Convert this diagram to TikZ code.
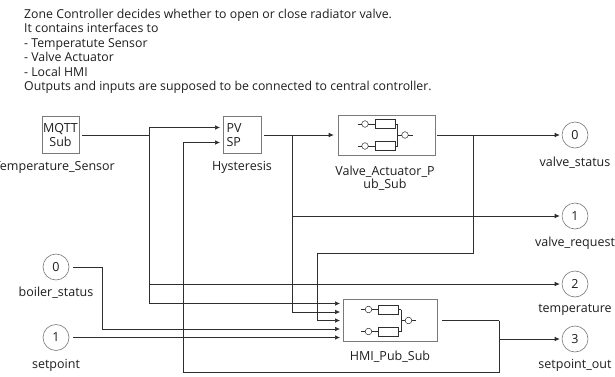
\documentclass[tikz,border=0pt]{standalone}
\usepackage{fontspec}
\setmainfont{Open Sans}
\usetikzlibrary{arrows.meta}
\definecolor{wirecol}{HTML}{2E2E2E}
\definecolor{boxcol}{HTML}{7A7A7A}
\definecolor{txtcol}{HTML}{1E1E1E}
\newcommand{\pubsubicon}[1]{%
    \begin{scope}[shift={(#1.center)}, draw=wirecol, line width=0.5pt]
        \foreach \s in {-11,11} {
            \draw (-29,\s) -- (-24.8,\s); \draw (-21.5,\s) circle (3.3pt);
            \draw (-18.2,\s) -- (-11.5,\s); \draw (-11.5,\s-4.7) rectangle (8.5,\s+4.7);
            \draw (8.5,\s) -- (11,\s);
        }
        \draw (11,-11) -- (11,11); \draw (11,0) -- (15.2,0);
        \draw (18.5,0) circle (3.3pt); \draw (21.8,0) -- (26,0);
    \end{scope}}
\tikzset{
    block/.style={draw=boxcol, line width=0.6pt, fill=white, inner sep=0pt, text=txtcol},
    port/.style={draw=boxcol, circle, minimum size=26pt, inner sep=0pt, line width=0.6pt, text=txtcol},
    lbl/.style={text=txtcol, align=center, inner sep=0pt},
    wire/.style={draw=wirecol, line width=0.6pt},
    sig/.style={wire, -{Latex[length=5pt,width=4.5pt]}, shorten >=3pt}
}

\begin{document}
\begin{tikzpicture}[x=1pt, y=-1pt, font=\fontsize{12.5}{14}\selectfont]
    \useasboundingbox (0,0) rectangle (615,377);
    \clip (0,0) rectangle (615,377);
    \fill[white] (0,0) rectangle (615,377);

    % description
    \node[lbl, align=left, anchor=north west, font=\fontsize{12.3}{14.4}\selectfont] (note) at (24,8.9)
        {Zone Controller decides whether to open or close radiator valve.\\
         It contains interfaces to\\
         - Temperatute Sensor\\
         - Valve Actuator\\
         - Local HMI\\
         Outputs and inputs are supposed to be connected to central controller.};

    % blocks
    \node[block, minimum width=37pt, minimum height=37pt, align=center] (mqtt) at (60.5,135) {MQTT\\Sub};
    \node[lbl, anchor=east] (mqttlbl) at (115,167) {Temperature\_Sensor};
    \node[block, minimum height=37pt, align=left, text width=31pt, inner xsep=3.5pt] (hyst) at (242,135) {PV\\SP};
    \node[lbl] (hystlbl) at (242,167) {Hysteresis};
    \node[block, minimum width=97pt, minimum height=40pt] (valve) at (386.5,135) {};
    \pubsubicon{valve}
    \node[lbl, font=\fontsize{12.5}{13}\selectfont] (valvelbl) at (385,178.5) {Valve\_Actuator\_P\\ub\_Sub};
    \node[block, minimum width=94pt, minimum height=42pt] (hmi) at (390,320.5) {};
    \pubsubicon{hmi}
    \node[lbl] (hmilbl) at (390,357) {HMI\_Pub\_Sub};

    % inports and outports
    \node[port] (in0) at (56,267) {0};
    \node[lbl] (in0lbl) at (56,293) {boiler\_status};
    \node[port] (in1) at (56,337.5) {1};
    \node[lbl] (in1lbl) at (56,365) {setpoint};
    \node[port] (out0) at (575,135) {0};
    \node[lbl] (out0lbl) at (575,163) {valve\_status};
    \node[port] (out1) at (575,216) {1};
    \node[lbl] (out1lbl) at (575,243) {valve\_request};
    \node[port] (out2) at (575,284) {2};
    \node[lbl] (out2lbl) at (575,310) {temperature};
    \node[port] (out3) at (575,339) {3};
    \node[lbl] (out3lbl) at (575,365) {setpoint\_out};

    % ports and branch points
    \coordinate (pv) at (223,127.5); \coordinate (sp) at (223,142.5);
    \coordinate (hin1) at (343,303.5); \coordinate (hin2) at (343,312);
    \coordinate (hin3) at (343,320.5); \coordinate (hin4) at (343,329);
    \coordinate (hin5) at (343,337.5);
    \coordinate (j1) at (149,135); \coordinate (j2) at (292,135);
    \coordinate (j3) at (473,135); \coordinate (k3) at (317,253);
    \coordinate (k4) at (102,267); \coordinate (j6) at (499,320.5);
    \coordinate (k6) at (183,372);

    % signals
    \draw[wire, shorten <=3pt] (mqtt) -- (j1);
    \draw[sig] (j1) |- (pv);
    \draw[sig, shorten >=2pt] (j1) |- (out2);
    \draw[sig] (j1) |- (hin1);

    \draw[wire, shorten <=3pt] (hyst) -- (j2);
    \draw[sig, shorten >=4pt] (j2) -- (valve);
    \draw[sig, shorten >=2pt] (j2) |- (out1);
    \draw[sig] (j2) |- (hin2);

    \draw[wire, shorten <=2pt] (valve) -- (j3);
    \draw[sig, shorten >=2pt] (j3) -- (out0);
    \draw[sig] (j3) |- (k3) |- (hin3);

    \draw[sig, shorten <=4pt] (in0) -- (k4) |- (hin4);
    \draw[sig, shorten <=4pt] (in1) -- (hin5);

    \draw[wire, shorten <=5pt] (hmi) -- (j6);
    \draw[sig, shorten >=2pt] (j6) |- (out3);
    \draw[sig] (j6) |- (k6) |- (sp);
\end{tikzpicture}
\end{document}
